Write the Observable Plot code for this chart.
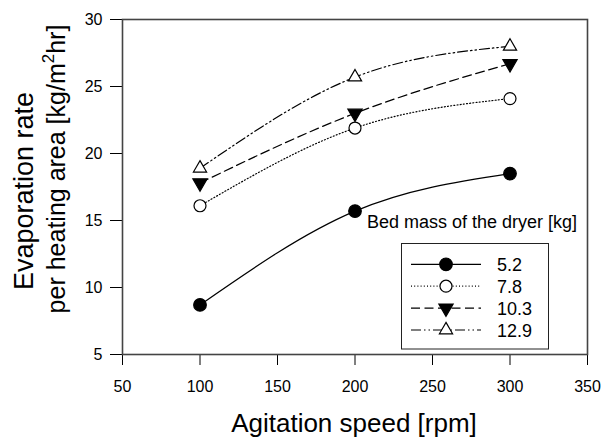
<!DOCTYPE html>
<html><head><meta charset="utf-8">
<script src="https://cdn.jsdelivr.net/npm/d3@7"></script>
<script src="https://cdn.jsdelivr.net/npm/@observablehq/plot@0.6"></script>
<style>body{margin:0;background:#fff}#chart{width:605px;height:437px}</style>
</head><body><div id="chart"></div>
<script>
// ---- data ----
const speeds = [100, 200, 300];
const bedMasses = ["5.2", "7.8", "10.3", "12.9"];
const rate52 = [8.7, 15.7, 18.5];
const rate78 = [16.1, 21.9, 24.1];
const rate103 = [17.8, 23.0, 26.7];
const rate129 = [18.9, 25.7, 28.0];
const xTicks = [50, 100, 150, 200, 250, 300, 350];
const yTicks = [5, 10, 15, 20, 25, 30];
const xTitle = "Agitation speed [rpm]";
const yTitle1 = "Evaporation rate";
const yTitle2a = "per heating area [kg/m";
const yTitle2sup = "2";
const yTitle2b = "hr]";
const legendTitle = "Bed mass of the dryer [kg]";

const FONT = "'Liberation Sans', Arial, sans-serif";
const sqrt3 = Math.sqrt(3);
const triangleDown = {
  draw(ctx, size) {
    const y = Math.sqrt(size / (sqrt3 * 3));
    ctx.moveTo(0, y * 2);
    ctx.lineTo(-sqrt3 * y, -y);
    ctx.lineTo(sqrt3 * y, -y);
    ctx.closePath();
  }
};
const styles = {
  "5.2":  {dash: null, symbol: "circle", fill: "black", r: 6.3},
  "7.8":  {dash: "1,2.2", symbol: "circle", fill: "white", r: 6},
  "10.3": {dash: "9,4.5", symbol: triangleDown, fill: "black", r: 5.3},
  "12.9": {dash: "10,3,1.5,3,1.5,3", symbol: "triangle", fill: "white", r: 4.9}
};
const seriesValues = [rate52, rate78, rate103, rate129];
const rows = bedMasses.flatMap((m, i) => speeds.map((s, j) => ({mass: m, speed: s, rate: seriesValues[i][j]})));

const marks = [
  Plot.axisX({ticks: xTicks, tickSize: 11, tickPadding: 15, label: null, fontSize: 16}),
  Plot.axisY({ticks: yTicks, tickSize: 12, tickPadding: 8, label: null, fontSize: 16})
];
for (const m of bedMasses) {
  const d = rows.filter(r => r.mass === m);
  const st = styles[m];
  marks.push(Plot.line(d, {x: "speed", y: "rate", curve: "natural", stroke: "black", strokeWidth: 1.2, strokeDasharray: st.dash}));
}
for (const m of bedMasses) {
  const d = rows.filter(r => r.mass === m);
  const st = styles[m];
  marks.push(Plot.dot(d, {x: "speed", y: "rate", symbol: st.symbol, r: st.r, fill: st.fill, stroke: "black", strokeWidth: 1.2}));
}
marks.push(Plot.frame({stroke: "#444", strokeWidth: 1.6}));

const chart = Plot.plot({
  width: 605, height: 437,
  marginLeft: 122, marginRight: 18, marginTop: 19, marginBottom: 83,
  x: {domain: [50, 350]},
  y: {domain: [5, 30]},
  style: {fontFamily: FONT, fontSize: "16px", color: "#000", background: "#fff"},
  marks
});
document.getElementById("chart").appendChild(chart);

// ---- titles and legend ----
const svg = d3.select(chart);
svg.append("text").attr("x", 354).attr("y", 432).attr("text-anchor", "middle")
  .attr("font-family", FONT).attr("font-size", 26).attr("fill", "#000").text(xTitle);
svg.append("text").attr("transform", "translate(33,191) rotate(-90)").attr("text-anchor", "middle")
  .attr("font-family", FONT).attr("font-size", 27).attr("fill", "#000").text(yTitle1);
const t2 = svg.append("text").attr("transform", "translate(65,169) rotate(-90)").attr("text-anchor", "middle")
  .attr("font-family", FONT).attr("font-size", 25).attr("fill", "#000");
t2.append("tspan").text(yTitle2a);
t2.append("tspan").attr("dy", -11).attr("font-size", 17).text(yTitle2sup);
t2.append("tspan").attr("dy", 11).text(yTitle2b);

const lg = svg.append("g").attr("font-family", FONT).attr("text-anchor", "start");
lg.append("text").attr("x", 367).attr("y", 228).attr("font-size", 18).attr("fill", "#000").text(legendTitle);
lg.append("rect").attr("x", 401.5).attr("y", 243.5).attr("width", 147).attr("height", 105.5)
  .attr("fill", "white").attr("stroke", "#222").attr("stroke-width", 1);
bedMasses.forEach((m, i) => {
  const st = styles[m];
  const y = 264.3 + i * 21.9;
  lg.append("line").attr("x1", 411).attr("x2", 481).attr("y1", y).attr("y2", y)
    .attr("stroke", "black").attr("stroke-width", 1.2).attr("stroke-dasharray", st.dash);
  const symType = typeof st.symbol === "string" ? (st.symbol === "circle" ? d3.symbolCircle : d3.symbolTriangle) : st.symbol;
  lg.append("path").attr("transform", `translate(446,${y})`)
    .attr("d", d3.symbol(symType, st.r * st.r * Math.PI)())
    .attr("fill", st.fill).attr("stroke", "black").attr("stroke-width", 1.2);
  lg.append("text").attr("x", 497).attr("y", y + 6.5).attr("font-size", 18).attr("fill", "#000").text(m);
});
</script>
</body></html>
